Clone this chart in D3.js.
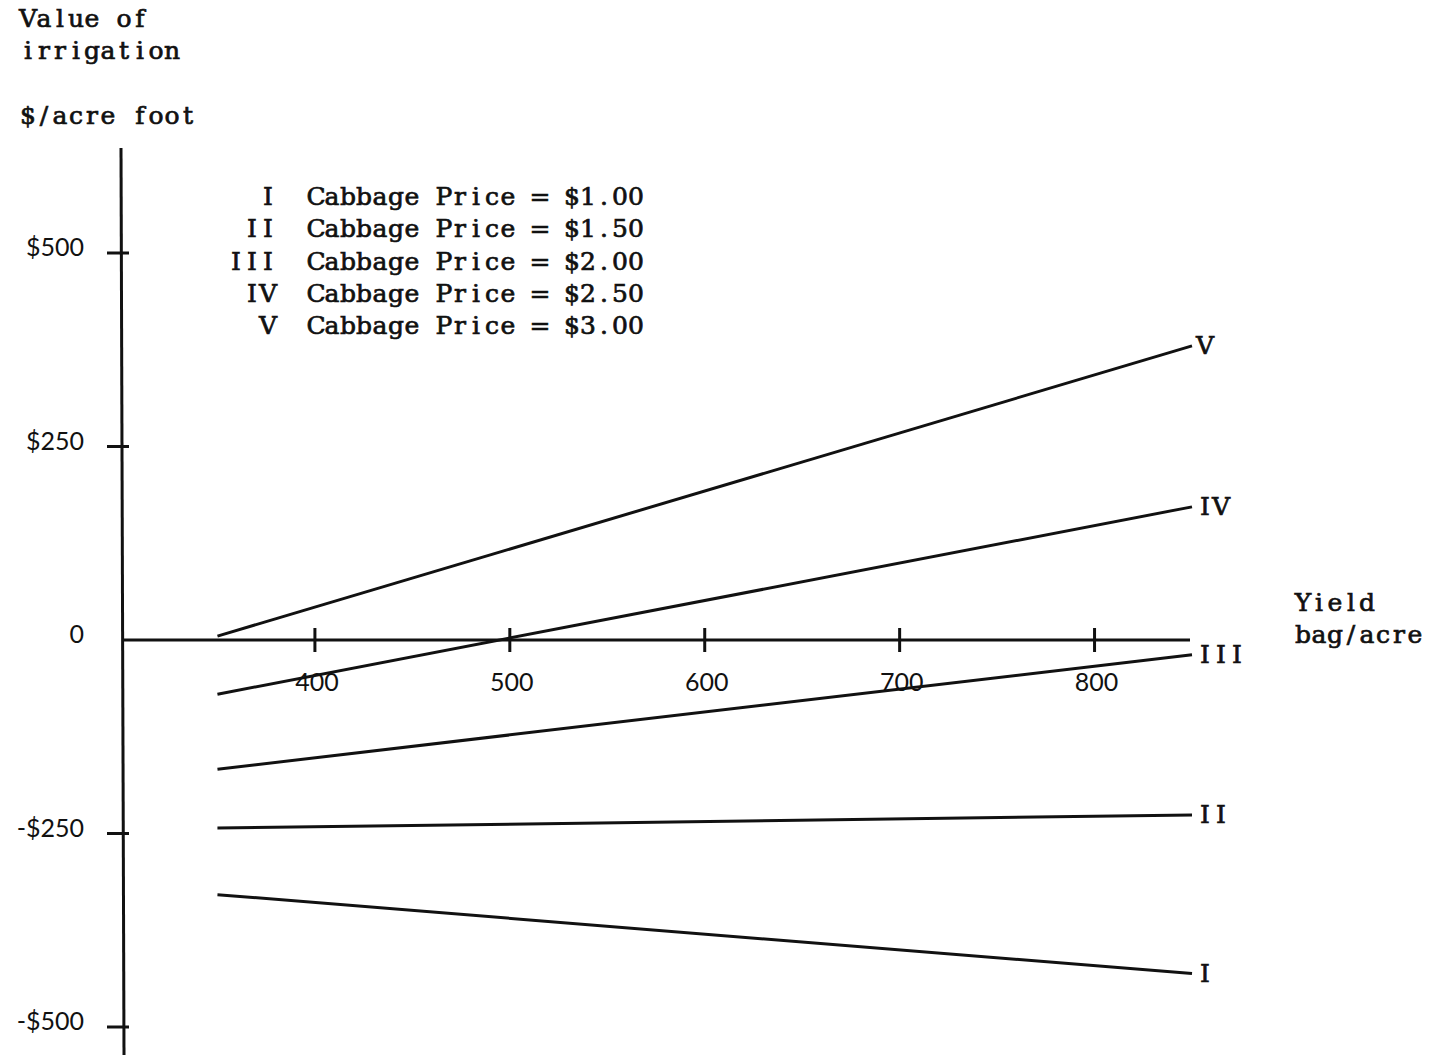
<!DOCTYPE html>
<html>
<head>
<meta charset="utf-8">
<script src="https://cdn.jsdelivr.net/npm/d3@7/dist/d3.min.js"></script>
<style>
  html, body { margin: 0; padding: 0; background: #fff; }
  svg { display: block; }
  .type { font-family: "DejaVu Serif", "Liberation Serif", serif; fill: #111; stroke: #111; stroke-width: 0.7px; }
  .num { font-family: Lato, "Open Sans", sans-serif; fill: #111; }
</style>
</head>
<body>
<script>
// Yield range covered by each price line (bag/acre)
const yields = [350, 850];

// Value of irrigation ($/acre foot) at the low and high yield, one series per cabbage price
const seriesNames = ["I", "II", "III", "IV", "V"];
const prices = ["$1.00", "$1.50", "$2.00", "$2.50", "$3.00"];
const valuesI   = [-329, -431];
const valuesII  = [-243, -226];
const valuesIII = [-167, -19];
const valuesIV  = [-70, 172];
const valuesV   = [5, 380];

// Axis ticks
const xTicks = [400, 500, 600, 700, 800];
const yTicks = [500, 250, 0, -250, -500];
const yTickLabels = ["$500", "$250", "0", "-$250", "-$500"];

const series = [valuesI, valuesII, valuesIII, valuesIV, valuesV].map((vals, i) => ({
  name: seriesNames[i],
  price: prices[i],
  points: yields.map((yv, j) => ({ yield: yv, value: vals[j] }))
}));

const W = 1443, H = 1055;
const svg = d3.select("body").append("svg").attr("width", W).attr("height", H);

const x = d3.scaleLinear().domain([300, 850]).range([120, 1192]);
const y = d3.scaleLinear().domain([500, -500]).range([253, 1027]);

const ink = "#111";
const pitch = 16;      // typewriter character cell width
const typeSize = 25;

// Set a string on a fixed character grid; anchor "start" or "end" at x0
function typewrite(g, str, x0, y0, anchor) {
  const chars = Array.from(str);
  const left = anchor === "end" ? x0 - chars.length * pitch : x0;
  const xs = chars.map((c, i) => left + i * pitch + pitch / 2);
  g.append("text")
    .attr("class", "type")
    .attr("font-size", typeSize)
    .attr("text-anchor", "middle")
    .attr("x", xs.join(" "))
    .attr("y", y0)
    .text(chars.map(c => c === " " ? "\u00a0" : c).join(""));
}

// Vertical axis, running from above the top tick to the bottom edge
svg.append("line")
  .attr("x1", 121).attr("x2", 124)
  .attr("y1", 148).attr("y2", H)
  .attr("stroke", ink).attr("stroke-width", 3);

// Horizontal axis at zero
svg.append("line")
  .attr("x1", 122).attr("x2", 1190)
  .attr("y1", y(0)).attr("y2", y(0))
  .attr("stroke", ink).attr("stroke-width", 3);

// Y ticks and labels
const yt = svg.append("g");
yt.selectAll("line").data(yTicks.filter(d => d !== 0)).join("line")
  .attr("x1", 107).attr("x2", 129)
  .attr("y1", d => y(d)).attr("y2", d => y(d))
  .attr("stroke", ink).attr("stroke-width", 3);
yt.selectAll("text").data(yTicks).join("text")
  .attr("class", "num")
  .attr("x", 84)
  .attr("y", d => y(d) + 3)
  .attr("text-anchor", "end")
  .attr("font-size", 25)
  .text((d, i) => yTickLabels[i]);

// X ticks and labels
const xt = svg.append("g");
xt.selectAll("line").data(xTicks).join("line")
  .attr("x1", d => x(d)).attr("x2", d => x(d))
  .attr("y1", y(0) - 12).attr("y2", y(0) + 12)
  .attr("stroke", ink).attr("stroke-width", 3);
xt.selectAll("text").data(xTicks).join("text")
  .attr("class", "num")
  .attr("x", d => x(d) + 2)
  .attr("y", y(0) + 51)
  .attr("text-anchor", "middle")
  .attr("font-size", 25)
  .text(d => d);

// Price lines
const line = d3.line().x(d => x(d.yield)).y(d => y(d.value));
svg.append("g").selectAll("path").data(series).join("path")
  .attr("d", d => line(d.points))
  .attr("fill", "none")
  .attr("stroke", ink)
  .attr("stroke-width", 3);

// Roman numeral at the end of each line
const endLabels = svg.append("g");
series.forEach(s => {
  const p = s.points[1];
  typewrite(endLabels, s.name, x(p.yield) + 5, y(p.value) + 8, "start");
});

// Legend
const legend = svg.append("g");
series.forEach((s, i) => {
  const yy = 205 + i * 32.3;
  typewrite(legend, s.name, 276, yy, "end");
  typewrite(legend, `Cabbage Price = ${s.price}`, 308, yy, "start");
});

// Axis titles
const titles = svg.append("g");
typewrite(titles, "Value of", 20, 27, "start");
typewrite(titles, "irrigation", 20, 59, "start");
typewrite(titles, "$/acre foot", 20, 124, "start");
typewrite(titles, "Yield", 1295, 611, "start");
typewrite(titles, "bag/acre", 1295, 643, "start");
</script>
</body>
</html>
